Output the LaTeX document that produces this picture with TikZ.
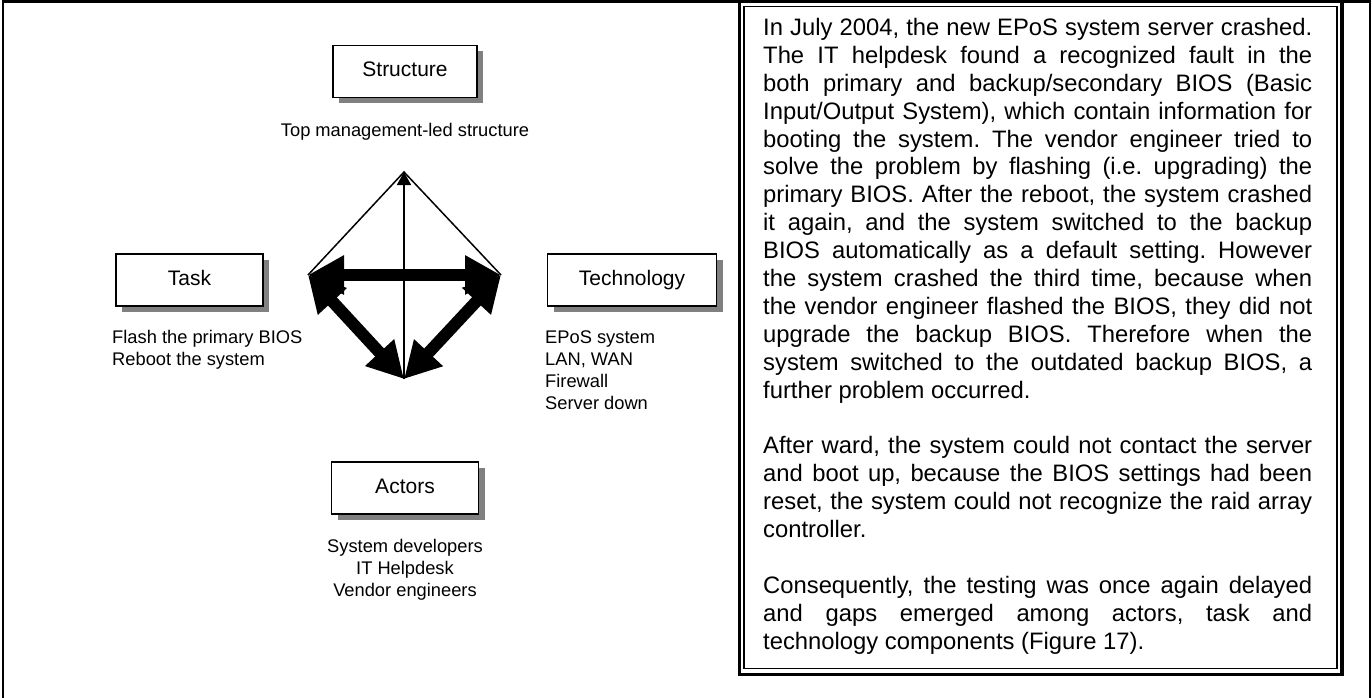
\documentclass[tikz,border=0pt]{standalone}
\usepackage{fontspec}
\setmainfont{Liberation Sans}
\usetikzlibrary{arrows.meta,shadows}

\tikzset{
    facet/.style={draw, line width=1.6pt, fill=white, inner sep=0pt, minimum height=52pt,
        text height=15pt, text depth=4.4pt, font=\fontsize{21}{24}\selectfont,
        general shadow={fill=black!50, shadow xshift=6pt, shadow yshift=-6pt}},
    note/.style={inner sep=0pt, font=\fontsize{18.3}{21.8}\selectfont},
    fatarrow/.style={line width=12pt, {Triangle[length=36pt,width=37pt]}-{Triangle[length=36pt,width=37pt]}},
    thinarrow/.style={line width=1.8pt, -{Triangle[length=13pt,width=14pt]}},
}

\begin{document}
\begin{tikzpicture}[x=1pt, y=-1pt]

    \useasboundingbox (0,0) rectangle (1372,698);
    \draw[line width=2.4pt] (2.9,698) |- (1370,1.6) -- (1370,698);

    % the four facets
    \node[facet, minimum width=144pt] (structure) at (405,71.5) {Structure};
    \node[facet, minimum width=147pt] (task) at (189.5,280) {Task};
    \node[facet, minimum width=169pt] (technology) at (632,280) {Technology};
    \node[facet, minimum width=147pt] (actors) at (405,488) {Actors};

    \node[note] (structurenote) at (405,132) {Top management-led structure};
    \node[note, anchor=north west, align=left] (tasknote) at (112,330) {Flash the primary BIOS\\Reboot the system};
    \node[note, anchor=north west, align=left] (technologynote) at (545,331) {EPoS system\\LAN, WAN\\Firewall\\Server down};
    \node[note, anchor=north, align=center] (actorsnote) at (405,539) {System developers\\IT Helpdesk\\Vendor engineers};

    % diamond of arrows
    \coordinate (peak) at (404,172);
    \coordinate (wtip) at (308,275);
    \coordinate (etip) at (501,275);
    \coordinate (stip) at (404,379);

    \draw[line width=1.5pt] (wtip) -- (peak) -- (etip);
    \draw[thinarrow] (stip) -- (peak);
    \draw[fatarrow] (wtip) -- (etip);
    \draw[fatarrow] (wtip) -- (stip);
    \draw[fatarrow] (etip) -- (stip);

    % case text
    \draw[line width=3.2pt] (739.5,1.6) rectangle (1342,674.5);
    \draw[line width=1.2pt] (744,6.5) rectangle (1337,668.5);

    \node[anchor=north west, inner sep=0pt, text width=549pt, align=justify,
        font=\fontsize{23.8}{27.9}\selectfont\frenchspacing] (story) at (763,18) {%
    \tolerance=10000
    In July 2004, the new EPoS system server crashed.\linebreak
    The IT helpdesk found a recognized fault in the\linebreak
    both primary and backup/secondary BIOS (Basic\linebreak
    Input/Output System), which contain information for\linebreak
    booting the system. The vendor engineer tried to\linebreak
    solve the problem by flashing (i.e. upgrading) the\linebreak
    primary BIOS. After the reboot, the system crashed\linebreak
    it again, and the system switched to the backup\linebreak
    BIOS automatically as a default setting. However\linebreak
    the system crashed the third time, because when\linebreak
    the vendor engineer flashed the BIOS, they did not\linebreak
    upgrade the backup BIOS. Therefore when the\linebreak
    system switched to the outdated backup BIOS, a\linebreak
    further problem occurred.\par\vspace{27.9pt}
    After ward, the system could not contact the server\linebreak
    and boot up, because the BIOS settings had been\linebreak
    reset, the system could not recognize the raid array\linebreak
    controller.\par\vspace{27.9pt}
    Consequently, the testing was once again delayed\linebreak
    and gaps emerged among actors, task and\linebreak
    technology components (Figure 17).};

\end{tikzpicture}
\end{document}
